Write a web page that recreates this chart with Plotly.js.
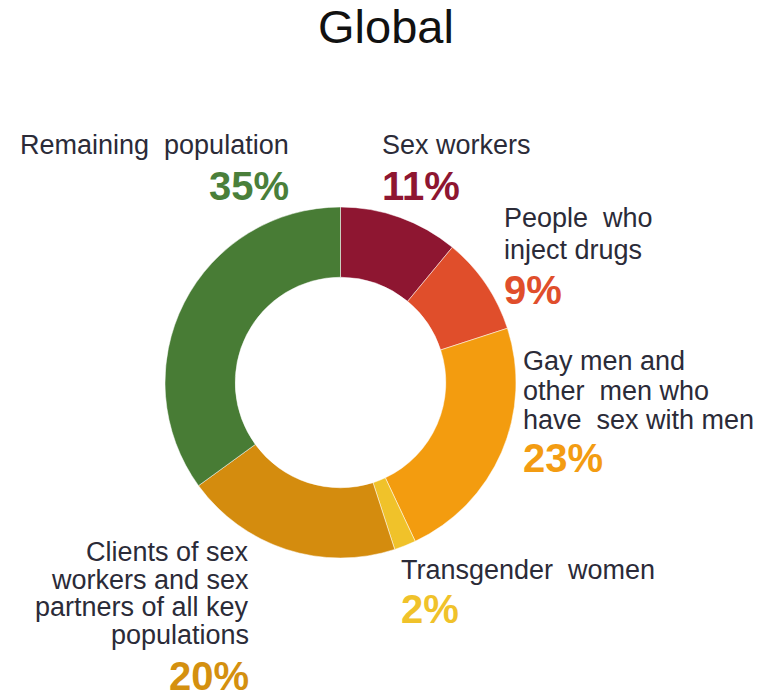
<!DOCTYPE html>
<html>
<head>
<meta charset="utf-8">
<script src="https://cdn.plot.ly/plotly-3.0.1.min.js"></script>
<style>html,body{margin:0;padding:0;background:#fff;}#chart{width:778px;height:697px;}</style>
</head>
<body>
<div id="chart"></div>
<script>
// ---- data ----
const categories = ["Sex workers", "People who inject drugs", "Gay men and other men who have sex with men", "Transgender women", "Clients of sex workers and sex partners of all key populations", "Remaining population"];
const labelLines = [["Sex workers"], ["People  who", "inject drugs"], ["Gay men and", "other  men who", "have  sex with men"], ["Transgender  women"], ["Clients of sex", "workers and sex", "partners of all key", "populations"], ["Remaining  population"]];
const shares = [11, 9, 23, 2, 20, 35];
const sliceColors = ["#8e1631", "#e04e2b", "#f39c0f", "#f0c22a", "#d48c0e", "#487c35"];
const pctColors = ["#8e1631", "#e04e2b", "#f39c12", "#f0c22a", "#d4900f", "#4a7f3a"];

// ---- layout of the label blocks (pixels) ----
const W = 778, H = 697;
const labelPos = [
  {x: 380, anchor: "left",  lines: [145], pct: 186},
  {x: 502, anchor: "left",  lines: [218, 250], pct: 290},
  {x: 521, anchor: "left",  lines: [361, 391, 420], pct: 458},
  {x: 399, anchor: "left",  lines: [570], pct: 609},
  {x: 251, anchor: "right", lines: [552, 580, 607, 635], pct: 676},
  {x: 291, anchor: "right", lines: [145], pct: 186}
];

const annotations = [];
labelPos.forEach((p, i) => {
  labelLines[i].forEach((t, j) => {
    annotations.push({
      text: t, xref: "paper", yref: "paper", x: p.x / W, y: 1 - p.lines[j] / H,
      xanchor: p.anchor, yanchor: "middle", showarrow: false,
      font: {family: "Liberation Sans, Arial, sans-serif", size: 27, color: "#2b2b38"}
    });
  });
  annotations.push({
    text: "<b>" + shares[i] + "%</b>", xref: "paper", yref: "paper", x: p.x / W, y: 1 - p.pct / H,
    xanchor: p.anchor, yanchor: "middle", showarrow: false,
    font: {family: "Liberation Sans, Arial, sans-serif", size: 40, color: pctColors[i]}
  });
});

const trace = {
  type: "pie", values: shares, labels: categories, hole: 0.6, sort: false,
  direction: "clockwise", rotation: 0, textinfo: "none", hoverinfo: "label+percent",
  marker: {colors: sliceColors, line: {color: "#ffffff", width: 0.5}},
  domain: {x: [165 / W, 516 / W], y: [1 - 558 / H, 1 - 207 / H]},
  showlegend: false
};

const layout = {
  width: W, height: H, margin: {l: 0, r: 0, t: 0, b: 0},
  paper_bgcolor: "#ffffff",
  title: {text: "Global", x: 386 / W, xanchor: "center", y: 1 - 27 / H, yanchor: "middle",
          font: {family: "Liberation Sans, Arial, sans-serif", size: 47, color: "#111111"}},
  annotations: annotations
};

Plotly.newPlot("chart", [trace], layout, {displayModeBar: false, staticPlot: true});
</script>
</body>
</html>
